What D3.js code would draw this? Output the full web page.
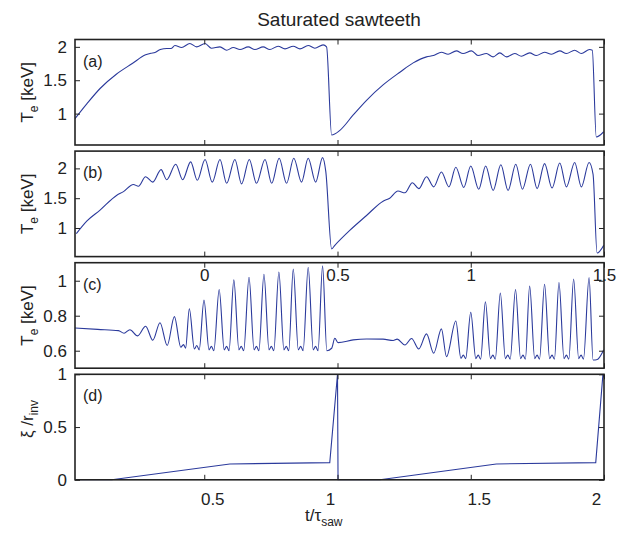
<!DOCTYPE html>
<html>
<head>
<meta charset="utf-8">
<script src="https://cdn.jsdelivr.net/npm/d3@7"></script>
<style>
  html, body { margin: 0; padding: 0; background: #fff; }
  svg { display: block; font-family: "Liberation Sans", Arial, Helvetica, sans-serif; }
</style>
</head>
<body>
<svg id="chart"></svg>
<script>
// values, time in units of tau_saw (bottom axis)
let tempA = [
  [0.015, 0.925], [0.06, 1.15], [0.11, 1.38], [0.17, 1.59], [0.23, 1.75], [0.28, 1.88],
  [0.3, 1.905], [0.315, 1.915], [0.335, 1.96], [0.36, 1.975], [0.375, 1.975],
  [0.39, 2.02], [0.415, 1.99], [0.446, 2.05], [0.471, 2.0], [0.503, 2.05], [0.527, 1.98],
  [0.559, 2.0], [0.584, 1.95], [0.609, 1.99], [0.634, 1.96], [0.665, 2.0], [0.69, 1.96],
  [0.721, 2.0], [0.746, 1.96], [0.777, 2.01], [0.803, 1.97], [0.834, 2.01], [0.859, 1.97],
  [0.89, 2.02], [0.915, 1.98], [0.946, 2.03], [0.959, 2.0], [0.978, 0.68],
  [1.009, 0.75], [1.059, 0.98], [1.109, 1.2], [1.171, 1.43], [1.234, 1.62], [1.284, 1.76],
  [1.334, 1.85], [1.36, 1.87], [1.39, 1.92], [1.415, 1.89], [1.446, 1.94], [1.471, 1.9],
  [1.503, 1.94], [1.527, 1.87], [1.559, 1.9], [1.584, 1.85], [1.609, 1.91], [1.634, 1.85],
  [1.665, 1.9], [1.69, 1.86], [1.721, 1.91], [1.746, 1.87], [1.777, 1.92], [1.803, 1.89],
  [1.834, 1.94], [1.859, 1.9], [1.89, 1.95], [1.915, 1.9], [1.946, 1.96], [1.956, 1.95],
  [1.971, 0.65], [1.999, 0.73]
];

let tempB = [
  [0.02, 0.906], [0.06, 1.12], [0.109, 1.3], [0.172, 1.55], [0.197, 1.61], [0.234, 1.73],
  [0.253, 1.7], [0.28, 1.86], [0.307, 1.77], [0.338, 1.98], [0.359, 1.81], [0.393, 2.07],
  [0.419, 1.81], [0.449, 2.11], [0.474, 1.8], [0.503, 2.15], [0.53, 1.77], [0.559, 2.15],
  [0.584, 1.75], [0.615, 2.15], [0.64, 1.74], [0.669, 2.15], [0.696, 1.75], [0.728, 2.15],
  [0.753, 1.75], [0.781, 2.17], [0.809, 1.75], [0.836, 2.17], [0.865, 1.77], [0.89, 2.17],
  [0.918, 1.77], [0.944, 2.18], [0.956, 1.95], [0.978, 0.65],
  [0.99, 0.71], [1.046, 0.96], [1.109, 1.21], [1.171, 1.45], [1.196, 1.5], [1.227, 1.62],
  [1.253, 1.59], [1.281, 1.76], [1.305, 1.66], [1.334, 1.86], [1.361, 1.69], [1.39, 1.94],
  [1.418, 1.69], [1.444, 2.02], [1.474, 1.68], [1.5, 2.04], [1.53, 1.65], [1.556, 2.04],
  [1.584, 1.63], [1.613, 2.06], [1.64, 1.63], [1.669, 2.07], [1.694, 1.65], [1.724, 2.07],
  [1.749, 1.66], [1.777, 2.08], [1.805, 1.67], [1.834, 2.09], [1.859, 1.69], [1.89, 2.1],
  [1.915, 1.69], [1.944, 2.1], [1.959, 1.9], [1.974, 0.58], [1.999, 0.71]
];

let tempC = [
  [0.015, 0.73], [0.1, 0.722], [0.178, 0.715], [0.199, 0.7], [0.221, 0.72], [0.25, 0.685],
  [0.28, 0.74], [0.307, 0.66], [0.334, 0.76], [0.361, 0.63], [0.388, 0.795], [0.412, 0.62],
  [0.422, 0.635], [0.43, 0.615],
  [0.444, 0.84], [0.463, 0.61], [0.472, 0.63], [0.481, 0.605],
  [0.499, 0.89], [0.518, 0.605], [0.527, 0.625], [0.536, 0.6],
  [0.556, 0.95], [0.575, 0.605], [0.584, 0.625], [0.593, 0.6],
  [0.611, 1.005], [0.63, 0.605], [0.639, 0.625], [0.648, 0.6],
  [0.668, 1.02], [0.687, 0.605], [0.696, 0.625], [0.705, 0.6],
  [0.724, 1.037], [0.743, 0.605], [0.752, 0.625], [0.761, 0.6],
  [0.78, 1.05], [0.799, 0.605], [0.808, 0.625], [0.817, 0.6],
  [0.834, 1.066], [0.853, 0.605], [0.862, 0.625], [0.871, 0.6],
  [0.89, 1.077], [0.909, 0.605], [0.918, 0.625], [0.927, 0.6],
  [0.944, 1.085], [0.96, 0.6], [0.978, 0.614], [0.99, 0.671], [1.002, 0.646],
  [1.059, 0.662], [1.109, 0.667], [1.171, 0.666], [1.209, 0.658], [1.224, 0.666],
  [1.253, 0.633], [1.278, 0.67], [1.305, 0.61], [1.334, 0.696], [1.361, 0.586],
  [1.39, 0.725], [1.409, 0.566], [1.444, 0.77], [1.463, 0.557], [1.472, 0.575], [1.481, 0.555],
  [1.5, 0.82], [1.519, 0.555], [1.528, 0.575], [1.537, 0.552],
  [1.555, 0.88], [1.574, 0.555], [1.583, 0.575], [1.592, 0.552],
  [1.611, 0.93], [1.63, 0.555], [1.639, 0.575], [1.648, 0.552],
  [1.668, 0.95], [1.687, 0.555], [1.696, 0.575], [1.705, 0.552],
  [1.721, 0.97], [1.74, 0.555], [1.749, 0.575], [1.758, 0.552],
  [1.777, 0.98], [1.796, 0.555], [1.805, 0.575], [1.814, 0.552],
  [1.831, 0.99], [1.85, 0.555], [1.859, 0.575], [1.868, 0.552],
  [1.886, 1.01], [1.905, 0.555], [1.914, 0.575], [1.923, 0.552],
  [1.944, 1.018], [1.959, 0.547], [1.975, 0.55], [1.999, 0.605]
];

let xiD = [
  [0.015, 0], [0.153, 0], [0.596, 0.15], [0.971, 0.163], [1.0, 1.0], [1.002, 0],
  [1.159, 0], [1.596, 0.15], [1.969, 0.163], [1.996, 1.0], [2.0, 0.97]
];

let tRange = [0.015, 2.0];
let xTicks = [0.5, 1, 1.5, 2];
let xTickLabels = ["0.5", "1", "1.5", "2"];
let topTicks = [0, 0.5, 1, 1.5];
let panelLabels = ["(a)", "(b)", "(c)", "(d)"];
let yDomains = [[0.53, 2.11], [0.52, 2.29], [0.5, 1.103], [0, 1]];
let yTicks = [[1, 1.5, 2], [1, 1.5, 2], [0.6, 0.8, 1], [0, 0.5, 1]];

let width = 629;
let height = 533;
let left = 75;
let right = 604;
let panelTop = 39.5;
let panelH = 105.5;
let panelStep = 111.6;
let ink = "#222";
let lineColor = "#2b3a9c";
let labelShift = [8, -7.5, 8, -8];

let svg = d3.select("#chart").attr("width", width).attr("height", height);
let xScale = d3.scaleLinear().domain(tRange).range([left, right]);
let xTop = d3.scaleLinear().domain([tRange[0] - 0.5, tRange[1] - 0.5]).range([left, right]);

let styleAxis = (g, size) => {
  g.select(".domain").remove();
  g.selectAll("line").attr("stroke", ink).attr("stroke-width", 1);
  g.selectAll("text").attr("fill", ink).style("font-size", size + "px");
};

let panels = [tempA, tempB, tempC, xiD];

panels.forEach((data, i) => {
  let top = panelTop + i * panelStep;
  let yScale = d3.scaleLinear().domain(yDomains[i]).range([top + panelH, top]);
  let g = svg.append("g");

  g.append("clipPath")
    .attr("id", "clip" + i)
    .append("rect")
    .attr("x", left)
    .attr("y", top - 1)
    .attr("width", right - left)
    .attr("height", panelH + 2);

  let line = d3
    .line()
    .x((d) => xScale(d[0]))
    .y((d) => yScale(d[1]))
    .curve(i === 3 ? d3.curveLinear : d3.curveMonotoneX);

  g.append("path")
    .datum(data)
    .attr("clip-path", `url(#clip${i})`)
    .attr("fill", "none")
    .attr("stroke", lineColor)
    .attr("stroke-width", 1.1)
    .attr("d", line);

  // inward ticks on all four sides
  g.append("g")
    .attr("transform", `translate(${left},0)`)
    .call(d3.axisLeft(yScale).tickValues(yTicks[i]).tickSizeInner(-5).tickSizeOuter(0)
      .tickPadding(8).tickFormat(d3.format("~g")))
    .call((a) => styleAxis(a, 17));
  g.append("g")
    .attr("transform", `translate(${right},0)`)
    .call(d3.axisRight(yScale).tickValues(yTicks[i]).tickSizeInner(-5).tickSizeOuter(0).tickFormat(""))
    .call((a) => styleAxis(a, 17));
  g.append("g")
    .attr("transform", `translate(0,${top})`)
    .call(d3.axisTop(xScale).tickValues(xTicks).tickSizeInner(-5).tickSizeOuter(0).tickFormat(""))
    .call((a) => styleAxis(a, 17));
  let bottom = g.append("g")
    .attr("transform", `translate(0,${top + panelH})`)
    .call(d3.axisBottom(xScale).tickValues(xTicks).tickSizeInner(-5).tickSizeOuter(0)
      .tickPadding(13.5).tickFormat((d, k) => (i === 3 ? xTickLabels[k] : "")))
    .call((a) => styleAxis(a, 17));
  if (i === 3) {
    bottom.selectAll("text").attr("dx", (d, k) => labelShift[k]);
  }

  // shifted time labels that sit inside panel (c)
  if (i === 2) {
    g.append("g")
      .attr("transform", `translate(0,${top})`)
      .call(d3.axisBottom(xTop).tickValues(topTicks).tickSize(0).tickPadding(6).tickFormat(d3.format("~g")))
      .call((a) => styleAxis(a, 17));
  }

  g.append("rect")
    .attr("x", left)
    .attr("y", top)
    .attr("width", right - left)
    .attr("height", panelH)
    .attr("fill", "none")
    .attr("stroke", ink)
    .attr("stroke-width", 1.6);

  g.append("text")
    .attr("x", left + 8)
    .attr("y", top + 27)
    .attr("fill", ink)
    .style("font-size", "16px")
    .text(panelLabels[i]);

  // y axis title
  let yt = g.append("text")
    .attr("transform", `translate(33,${top + panelH / 2 + (i === 3 ? -8 : 0)}) rotate(-90)`)
    .attr("text-anchor", "middle")
    .attr("fill", ink)
    .style("font-size", "17px");
  if (i < 3) {
    yt.append("tspan").text("T");
    yt.append("tspan").attr("dy", 5).style("font-size", "12px").text("e");
    yt.append("tspan").attr("dy", -5).text(" [keV]");
  } else {
    yt.append("tspan").text("\u03be /r");
    yt.append("tspan").attr("dy", 5).style("font-size", "12px").text("inv");
  }
});

svg.append("text")
  .attr("x", 339)
  .attr("y", 26)
  .attr("text-anchor", "middle")
  .attr("fill", ink)
  .style("font-size", "19px")
  .text("Saturated sawteeth");

let xt = svg.append("text")
  .attr("x", 305)
  .attr("y", 521)
  .attr("fill", ink)
  .style("font-size", "17px");
xt.append("tspan").text("t/\u03c4");
xt.append("tspan").attr("dy", 5).style("font-size", "12px").text("saw");
</script>
</body>
</html>
